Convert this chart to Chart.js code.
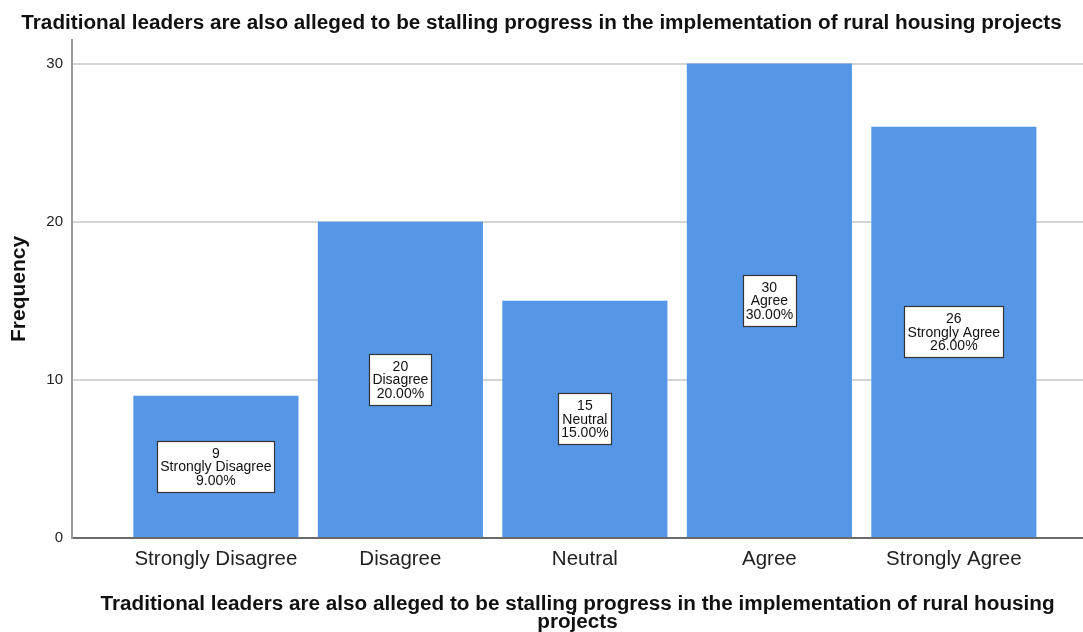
<!DOCTYPE html>
<html>
<head>
<meta charset="utf-8">
<script src="https://cdn.jsdelivr.net/npm/chart.js@4/dist/chart.umd.min.js"></script>
<style>
  body { margin: 0; background: #fff; }
  #grafico { display: block; }
</style>
</head>
<body>
<canvas id="grafico" width="1083" height="632"></canvas>
<script>
// Dados do gráfico
const categorias = ['Strongly Disagree', 'Disagree', 'Neutral', 'Agree', 'Strongly Agree'];
const frequencias = [9, 20, 15, 30, 26];
const ticksY = [0, 10, 20, 30];
const titulo = 'Traditional leaders are also alleged to be stalling progress in the implementation of rural housing projects';
const tituloX = ['Traditional leaders are also alleged to be stalling progress in the implementation of rural housing', 'projects'];

const total = frequencias.reduce((a, b) => a + b, 0);
const fonte = '"Liberation Sans", Arial, sans-serif';

// Plugin que desenha as caixas brancas com valor, categoria e percentagem
const caixasRotulo = {
    id: 'caixasRotulo',
    afterDatasetsDraw(chart) {
        const ctx = chart.ctx;
        const meta = chart.getDatasetMeta(0);
        ctx.save();
        ctx.font = '14px ' + fonte;
        ctx.textAlign = 'center';
        ctx.textBaseline = 'middle';
        meta.data.forEach((barra, i) => {
            const linhas = [
                String(frequencias[i]),
                categorias[i],
                (frequencias[i] / total * 100).toFixed(2) + '%'
            ];
            const largura = Math.round(Math.max(...linhas.map(l => ctx.measureText(l).width)) + 6);
            const altura = 51;
            const cx = barra.x;
            const cy = (barra.y + barra.base) / 2;
            const x0 = Math.round(cx - largura / 2) + 0.5;
            const y0 = Math.round(cy - altura / 2) + 0.5;
            ctx.fillStyle = '#ffffff';
            ctx.fillRect(x0, y0, largura, altura);
            ctx.strokeStyle = '#333333';
            ctx.lineWidth = 1.2;
            ctx.strokeRect(x0, y0, largura, altura);
            ctx.fillStyle = '#111111';
            linhas.forEach((l, k) => {
                ctx.fillText(l, cx, cy + (k - 1) * 13.5 + 1);
            });
        });
        ctx.restore();
    }
};

const ctx = document.getElementById('grafico').getContext('2d');
new Chart(ctx, {
    type: 'bar',
    data: {
        datasets: [{
            label: 'Frequency',
            data: frequencias.map((v, i) => ({ x: i, y: v })),
            backgroundColor: '#5596e6',
            borderWidth: 0,
            barPercentage: 0.895,
            categoryPercentage: 1
        }]
    },
    options: {
        responsive: false,
        animation: false,
        layout: { padding: { left: 0, right: 0, top: 0, bottom: 0 } },
        plugins: {
            legend: { display: false },
            tooltip: { enabled: false },
            title: {
                display: true,
                text: titulo,
                color: '#111',
                font: { family: fonte, size: 20.7, weight: 'bold' },
                padding: { top: 11, bottom: 4 }
            }
        },
        scales: {
            x: {
                type: 'linear',
                offset: false,
                min: -0.78,
                max: 4.7,
                afterBuildTicks: s => { s.ticks = categorias.map((c, i) => ({ value: i })); },
                afterFit: s => { s.height = 94; },
                grid: { display: false, drawTicks: false },
                border: { display: true, color: '#6a6a6a', width: 2 },
                ticks: {
                    padding: 9,
                    color: '#222',
                    font: { family: fonte, size: 20.5 },
                    callback: v => categorias[v] ?? ''
                },
                title: {
                    display: true,
                    text: tituloX,
                    color: '#111',
                    font: { family: fonte, size: 20.7, weight: 'bold', lineHeight: 0.9 },
                    padding: { top: 0, bottom: 0 }
                }
            },
            y: {
                min: 0,
                max: 31.5,
                afterBuildTicks: s => { s.ticks = ticksY.map(v => ({ value: v })); },
                afterFit: s => { s.width = 72; },
                grid: {
                    color: c => c.tick && c.tick.value === 0 ? 'rgba(0,0,0,0)' : '#d4d4d4',
                    lineWidth: 2,
                    drawTicks: false
                },
                border: { display: true, color: '#999', width: 2 },
                ticks: {
                    padding: 9,
                    color: '#222',
                    font: { family: fonte, size: 15 }
                },
                title: {
                    display: true,
                    text: 'Frequency',
                    color: '#111',
                    font: { family: fonte, size: 21, weight: 'bold' },
                    padding: { top: 7, bottom: 0 }
                }
            }
        }
    },
    plugins: [caixasRotulo]
});
</script>
</body>
</html>
